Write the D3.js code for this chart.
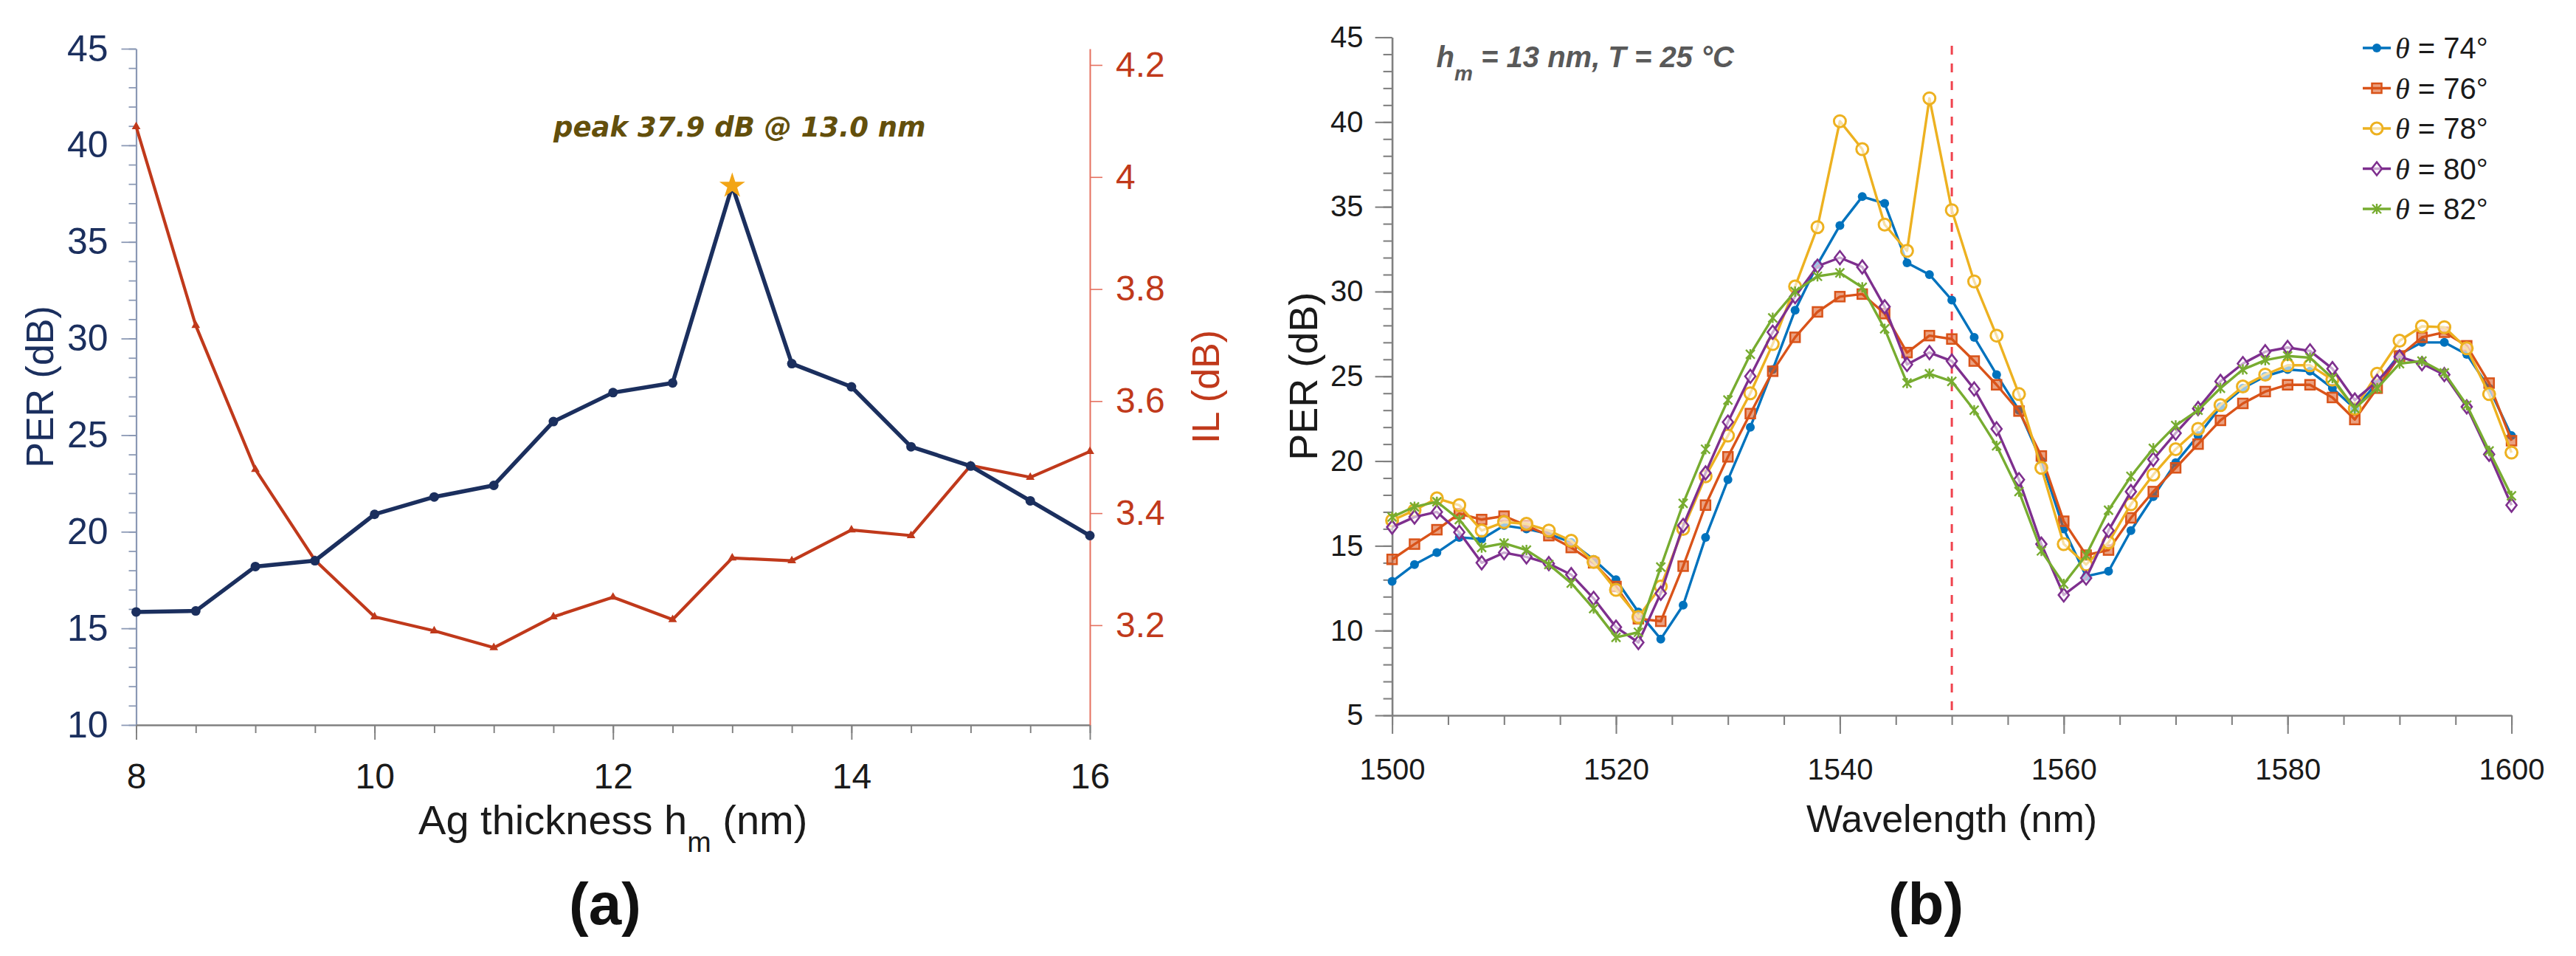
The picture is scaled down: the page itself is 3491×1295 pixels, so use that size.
<!DOCTYPE html>
<html lang="en">
<head>
<meta charset="UTF-8">
<title>PER / IL vs Ag thickness and wavelength</title>
<script src="https://d3js.org/d3.v7.min.js"></script>
<style>
  body {margin: 0; background: #fff;}
  svg {display: block; font-family: "Liberation Sans", Arial, sans-serif;}
</style>
</head>
<body>
<script>
const width = 3491, height = 1295;

// ---- panel (a) data ----
const thickness = [8, 8.5, 9, 9.5, 10, 10.5, 11, 11.5, 12, 12.5, 13, 13.5, 14, 14.5, 15, 15.5, 16];
const perA = [15.85, 15.9, 18.2, 18.5, 20.9, 21.8, 22.4, 25.7, 27.2, 27.7, 37.9, 28.7, 27.5, 24.4, 23.4, 21.6, 19.8];
const ilA  = [4.09, 3.735, 3.478, 3.316, 3.215, 3.19, 3.16, 3.215, 3.25, 3.21, 3.32, 3.315, 3.37, 3.36, 3.485, 3.464, 3.51];
const peak = {x: 13.0, y: 37.9};
const perTicksA = [10, 15, 20, 25, 30, 35, 40, 45];
const ilTicks = [3.2, 3.4, 3.6, 3.8, 4.0, 4.2];
const thickTicks = [8, 10, 12, 14, 16];

// ---- panel (b) data ----
const wavelength = [1500, 1502, 1504, 1506, 1508, 1510, 1512, 1514, 1516, 1518,
                    1520, 1522, 1524, 1526, 1528, 1530, 1532, 1534, 1536, 1538,
                    1540, 1542, 1544, 1546, 1548, 1550, 1552, 1554, 1556, 1558,
                    1560, 1562, 1564, 1566, 1568, 1570, 1572, 1574, 1576, 1578,
                    1580, 1582, 1584, 1586, 1588, 1590, 1592, 1594, 1596, 1598, 1600];
const angles = [74, 76, 78, 80, 82];
const per74 = [12.9, 13.9, 14.6, 15.5, 15.4, 16.2, 16.0, 15.7, 15.2, 14.2,
               13.0, 11.1, 9.5, 11.5, 15.5, 18.9, 22.0, 25.4, 28.9, 31.6,
               33.9, 35.6, 35.2, 31.7, 31.0, 29.5, 27.3, 25.1, 23.0, 20.0,
               16.0, 13.2, 13.5, 15.9, 17.9, 19.9, 21.5, 23.2, 24.3, 25.0,
               25.4, 25.3, 24.3, 23.1, 24.6, 26.3, 27.0, 27.0, 26.3, 24.3, 21.5];
const per76 = [14.2, 15.1, 15.95, 16.9, 16.55, 16.75, 16.2, 15.6, 14.9, 14.0,
               12.6, 10.7, 10.55, 13.8, 17.4, 20.25, 22.8, 25.3, 27.3, 28.8,
               29.7, 29.85, 28.7, 26.4, 27.4, 27.2, 25.9, 24.5, 22.95, 20.3,
               16.45, 14.45, 14.75, 16.65, 18.2, 19.6, 21.0, 22.4, 23.4, 24.1,
               24.5, 24.5, 23.75, 22.45, 24.3, 26.2, 27.3, 27.6, 26.8, 24.6, 21.2];
const per78 = [16.5, 17.1, 17.8, 17.4, 15.9, 16.4, 16.3, 15.9, 15.3, 14.05,
               12.4, 10.8, 12.6, 16.0, 19.1, 21.5, 24.0, 26.9, 30.3, 33.8,
               40.05, 38.4, 33.95, 32.4, 41.4, 34.8, 30.6, 27.4, 23.95, 19.6,
               15.1, 13.9, 15.2, 17.45, 19.2, 20.7, 21.9, 23.3, 24.4, 25.1,
               25.65, 25.65, 24.8, 23.1, 25.15, 27.1, 27.95, 27.9, 26.65, 23.95, 20.5];
const per80 = [16.1, 16.7, 17.0, 15.8, 14.0, 14.6, 14.35, 13.95, 13.3, 11.9,
               10.2, 9.3, 12.2, 16.2, 19.3, 22.3, 25.0, 27.6, 29.7, 31.5,
               32.0, 31.45, 29.1, 25.7, 26.4, 25.9, 24.25, 21.9, 18.9, 15.1,
               12.1, 13.1, 15.9, 18.2, 20.1, 21.65, 23.1, 24.7, 25.75, 26.45,
               26.7, 26.5, 25.45, 23.6, 24.7, 26.15, 25.75, 25.1, 23.2, 20.4, 17.4];
const per82 = [16.7, 17.3, 17.6, 16.55, 14.9, 15.15, 14.75, 13.9, 12.8, 11.3,
               9.6, 9.9, 13.75, 17.5, 20.7, 23.6, 26.3, 28.45, 30.0, 30.9,
               31.1, 30.25, 27.8, 24.6, 25.15, 24.7, 23.0, 20.9, 18.2, 14.7,
               12.75, 14.45, 17.1, 19.1, 20.75, 22.1, 23.0, 24.3, 25.4, 25.95,
               26.2, 26.1, 24.9, 23.1, 24.3, 25.75, 25.9, 25.2, 23.3, 20.6, 17.95];
const seriesB = [per74, per76, per78, per80, per82];
const colorsB = ["#0072BD", "#D95319", "#EDB120", "#7E2F8E", "#77AC30"];
const markersB = ["dot", "square", "ring", "diamond", "asterisk"];
const markLine = 1550;
const wlTicks = [1500, 1520, 1540, 1560, 1580, 1600];
const perTicksB = [5, 10, 15, 20, 25, 30, 35, 40, 45];

const navy = "#1b2f5e", rust = "#c0391b";

const svg = d3.select("body").append("svg")
    .attr("width", width).attr("height", height);

// ================= panel (a) =================
const xA = d3.scaleLinear().domain([8, 16]).range([184.5, 1477]);
const yA = d3.scaleLinear().domain([10, 45]).range([982, 66]);
const yIL = d3.scaleLinear().domain([3.022, 4.229]).range([982, 66]);

const gA = svg.append("g");

function styleAxis(g, lineColor, textColor, fontSize, lw) {
    g.select(".domain").attr("stroke", lineColor).attr("stroke-width", lw);
    g.selectAll(".tick line").attr("stroke", lineColor).attr("stroke-width", lw * 0.8);
    g.selectAll(".tick text").attr("fill", textColor)
        .style("font-size", fontSize + "px").style("font-family", "'Liberation Sans', Arial, sans-serif");
}

// minor ticks first
gA.append("g").attr("transform", "translate(" + [xA(8), 0] + ")")
    .call(d3.axisLeft(yA).tickValues(d3.range(10, 46, 1)).tickSize(10).tickFormat(""))
    .call(g => { styleAxis(g, "#8a98b4", navy, 50, 2.2); g.select(".domain").remove(); });
gA.append("g").attr("transform", "translate(" + [xA(8), 0] + ")")
    .call(d3.axisLeft(yA).tickValues(perTicksA).tickSize(20).tickSizeOuter(0).tickPadding(18))
    .call(g => styleAxis(g, "#8a98b4", navy, 50, 2.2));

gA.append("g").attr("transform", "translate(" + [0, yA(10)] + ")")
    .call(d3.axisBottom(xA).tickValues(d3.range(8, 16.01, 0.5)).tickSize(11).tickFormat(""))
    .call(g => { styleAxis(g, "#808080", "#1a1a1a", 48, 2.4); g.select(".domain").remove(); });
gA.append("g").attr("transform", "translate(" + [0, yA(10)] + ")")
    .call(d3.axisBottom(xA).tickValues(thickTicks).tickSize(20).tickSizeOuter(0).tickPadding(32))
    .call(g => styleAxis(g, "#808080", "#1a1a1a", 48, 2.4));

gA.append("g").attr("transform", "translate(" + [xA(16), 0] + ")")
    .call(d3.axisRight(yIL).tickValues(ilTicks).tickSize(17).tickSizeOuter(0).tickPadding(18)
        .tickFormat(d => String(+d.toFixed(1))))
    .call(g => styleAxis(g, "#e5705f", rust, 48, 2));

// lines
const lineA = d3.line().x((d, i) => xA(thickness[i])).y(d => yA(d));
const lineIL = d3.line().x((d, i) => xA(thickness[i])).y(d => yIL(d));

gA.append("path").attr("d", lineIL(ilA))
    .attr("fill", "none").attr("stroke", rust).attr("stroke-width", 4.2).attr("stroke-linejoin", "round");
gA.append("g").selectAll("path").data(ilA).join("path")
    .attr("d", d3.symbol(d3.symbolTriangle, 60))
    .attr("transform", (d, i) => "translate(" + [xA(thickness[i]), yIL(d)] + ")")
    .attr("fill", rust);

gA.append("path").attr("d", lineA(perA))
    .attr("fill", "none").attr("stroke", navy).attr("stroke-width", 5.5).attr("stroke-linejoin", "round");
gA.append("g").selectAll("circle").data(perA).join("circle")
    .attr("cx", (d, i) => xA(thickness[i])).attr("cy", d => yA(d))
    .attr("r", (d, i) => thickness[i] === peak.x ? 0 : 6.5)
    .attr("fill", navy);

gA.append("path")
    .attr("d", d3.symbol(d3.symbolStar, 380))
    .attr("transform", "translate(" + [xA(peak.x), yA(peak.y)] + ")")
    .attr("fill", "#f2a516");

gA.append("text")
    .attr("x", xA(peak.x) + 10).attr("y", yA(peak.y) - 67)
    .attr("text-anchor", "middle")
    .style("font-family", "'DejaVu Sans', sans-serif")
    .style("font-weight", "bold").style("font-style", "italic")
    .style("font-size", "37px").attr("fill", "#634f0c")
    .text("peak " + peak.y.toFixed(1) + " dB @ " + peak.x.toFixed(1) + " nm");

// axis titles
gA.append("text")
    .attr("transform", "translate(72," + (yA(10) + yA(45)) / 2 + ") rotate(-90)")
    .attr("text-anchor", "middle").attr("fill", navy).style("font-size", "52px")
    .text("PER (dB)");
gA.append("text")
    .attr("transform", "translate(1652," + (yA(10) + yA(45)) / 2 + ") rotate(-90)")
    .attr("text-anchor", "middle").attr("fill", rust).style("font-size", "52px")
    .text("IL (dB)");
const xtA = gA.append("text")
    .attr("x", (xA(8) + xA(16)) / 2).attr("y", 1130)
    .attr("text-anchor", "middle").attr("fill", "#1a1a1a").style("font-size", "56px");
xtA.append("tspan").text("Ag thickness h");
xtA.append("tspan").attr("dy", 24).style("font-size", "39px").text("m");
xtA.append("tspan").attr("dy", -24).text(" (nm)");

gA.append("text").attr("x", 820).attr("y", 1252)
    .attr("text-anchor", "middle").style("font-weight", "bold").style("font-size", "80px")
    .attr("fill", "#111").text("(a)");

// ================= panel (b) =================
const xB = d3.scaleLinear().domain([1500, 1600]).range([1886.6, 3403.6]);
const yB = d3.scaleLinear().domain([5, 45]).range([969, 50.5]);

const gB = svg.append("g");

gB.append("g").attr("transform", "translate(" + [xB(1500), 0] + ")")
    .call(d3.axisLeft(yB).tickValues(d3.range(5, 46, 1)).tickSize(12).tickFormat(""))
    .call(g => { styleAxis(g, "#808080", "#1a1a1a", 40, 2.6); g.select(".domain").remove(); });
gB.append("g").attr("transform", "translate(" + [xB(1500), 0] + ")")
    .call(d3.axisLeft(yB).tickValues(perTicksB).tickSize(23).tickSizeOuter(0).tickPadding(16))
    .call(g => styleAxis(g, "#808080", "#1a1a1a", 40, 2.6));

gB.append("g").attr("transform", "translate(" + [0, yB(5)] + ")")
    .call(d3.axisBottom(xB).tickValues(d3.range(1500, 1601, 5)).tickSize(13).tickFormat(""))
    .call(g => { styleAxis(g, "#808080", "#1a1a1a", 40, 2.6); g.select(".domain").remove(); });
gB.append("g").attr("transform", "translate(" + [0, yB(5)] + ")")
    .call(d3.axisBottom(xB).tickValues(wlTicks).tickSize(25).tickSizeOuter(0).tickPadding(34)
        .tickFormat(d3.format("d")))
    .call(g => styleAxis(g, "#808080", "#1a1a1a", 40, 2.6));

// dashed marker line
gB.append("line")
    .attr("x1", xB(markLine)).attr("x2", xB(markLine))
    .attr("y1", 62).attr("y2", yB(5))
    .attr("stroke", "#f0434e").attr("stroke-width", 3).attr("stroke-dasharray", "12,12");

function drawMarker(sel, type, color) {
    if (type === "dot") {
        sel.append("circle").attr("r", 6).attr("fill", color);
    } else if (type === "square") {
        sel.append("rect").attr("x", -6.5).attr("y", -6.5).attr("width", 13).attr("height", 13)
            .attr("fill", color).attr("fill-opacity", 0.55)
            .attr("stroke", color).attr("stroke-width", 2.5);
    } else if (type === "ring") {
        sel.append("circle").attr("r", 8).attr("fill", "#fff").attr("fill-opacity", 0.6)
            .attr("stroke", color).attr("stroke-width", 3);
    } else if (type === "diamond") {
        sel.append("path").attr("d", "M0,-9L7,0L0,9L-7,0Z")
            .attr("fill", "#fff").attr("fill-opacity", 0.6)
            .attr("stroke", color).attr("stroke-width", 2.6);
    } else {
        sel.append("path").attr("d", "M-6,-6L6,6M-6,6L6,-6M0,-7L0,7")
            .attr("fill", "none").attr("stroke", color).attr("stroke-width", 2.4);
    }
}

const lineB = d3.line().x((d, i) => xB(wavelength[i])).y(d => yB(d));

seriesB.forEach((vals, s) => {
    const g = gB.append("g");
    g.append("path").attr("d", lineB(vals))
        .attr("fill", "none").attr("stroke", colorsB[s]).attr("stroke-width", 3.4)
        .attr("stroke-linejoin", "round");
    g.selectAll("g.m").data(vals).join("g").attr("class", "m")
        .attr("transform", (d, i) => "translate(" + [xB(wavelength[i]), yB(d)] + ")")
        .each(function () { drawMarker(d3.select(this), markersB[s], colorsB[s]); });
});

// title
const tt = gB.append("text").attr("x", xB(1500) + 60).attr("y", 91)
    .attr("fill", "#595959").style("font-size", "40px")
    .style("font-weight", "bold").style("font-style", "italic");
tt.append("tspan").text("h");
tt.append("tspan").attr("dy", 18).style("font-size", "28px").text("m");
tt.append("tspan").attr("dy", -18).text(" = 13 nm, T = 25 °C");

// legend
const legend = gB.append("g");
angles.forEach((a, s) => {
    const y = 65 + s * 54.5;
    const row = legend.append("g").attr("transform", "translate(3202," + y + ")");
    row.append("line").attr("x1", 0).attr("x2", 38).attr("y1", 0).attr("y2", 0)
        .attr("stroke", colorsB[s]).attr("stroke-width", 3.4);
    drawMarker(row.append("g").attr("transform", "translate(19,0)"), markersB[s], colorsB[s]);
    const t = row.append("text").attr("x", 44).attr("y", 14)
        .attr("fill", "#1a1a1a").style("font-size", "40px");
    t.append("tspan").style("font-style", "italic")
        .style("font-family", "'Liberation Serif', serif").text("θ");
    t.append("tspan").text(" = " + a + "°");
});

// axis titles
gB.append("text")
    .attr("transform", "translate(1785," + (yB(5) + yB(45)) / 2 + ") rotate(-90)")
    .attr("text-anchor", "middle").attr("fill", "#1a1a1a").style("font-size", "54px")
    .text("PER (dB)");
gB.append("text")
    .attr("x", (xB(1500) + xB(1600)) / 2).attr("y", 1127)
    .attr("text-anchor", "middle").attr("fill", "#1a1a1a").style("font-size", "52px")
    .text("Wavelength (nm)");

gB.append("text").attr("x", 2610).attr("y", 1252)
    .attr("text-anchor", "middle").style("font-weight", "bold").style("font-size", "80px")
    .attr("fill", "#111").text("(b)");
</script>
</body>
</html>
